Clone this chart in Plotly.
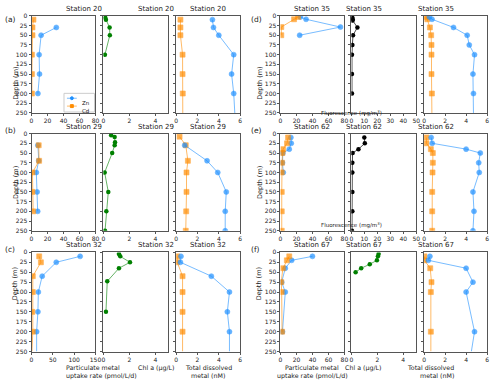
import plotly.graph_objects as go

# depth profiles, one set per station
# particulate uptake (Zn, Cd), chl a / fluorescence, total dissolved (Zn, Cd)
stations = ["Station 20", "Station 29", "Station 32", "Station 35", "Station 62", "Station 67"]
panel_tags = ["(a)", "(b)", "(c)", "(d)", "(e)", "(f)"]
line_only_250 = ["(a)", "(c)", "(d)", "(f)"]  # profiles extended to 250 m with no marker

# (a) Station 20
pzn_a_z = [30, 50, 100, 150, 200]
pzn_a = [31, 12, 9.5, 10, 8]
pcd_a_z = [10, 30, 50, 100, 150, 200]
pcd_a = [2.4, 1.2, 1.2, 0.5, 0.5, 0.5]
chl_a_z = [5, 10, 30, 50, 100]
chl_a = [0.15, 0.2, 0.48, 0.5, 0.12]
dzn_a_z = [10, 30, 50, 100, 150, 200, 250]
dzn_a = [3.4, 3.5, 4.0, 5.4, 5.2, 5.4, 5.5]
dcd_a_z = [10, 30, 50, 100, 150, 200, 250]
dcd_a = [0.4, 0.4, 0.4, 0.6, 0.6, 0.62, 0.62]

# (b) Station 29
pzn_b_z = [30, 70, 100, 150, 200]
pzn_b = [8, 9, 6, 7, 7.7]
pcd_b_z = [30, 70, 100, 150, 200]
pcd_b = [9, 9.5, 1.2, 1.2, 2]
chl_b_z = [4, 9, 22, 30, 50, 100, 150, 200, 250]
chl_b = [0.6, 0.87, 0.9, 0.87, 0.68, 0.1, 0.38, 0.23, 0.13]
dzn_b_z = [30, 70, 100, 150, 200, 250]
dzn_b = [0.8, 2.9, 3.9, 4.7, 4.6, 4.6]
dcd_b_z = [8, 30, 70, 100, 150, 200, 250]
dcd_b = [0.32, 0.9, 1.1, 0.97, 0.97, 0.94, 0.9]

# (c) Station 32
pzn_c_z = [10, 25, 60, 100, 150, 200, 250]
pzn_c = [114, 58, 25, 16, 15, 12, 12]
pcd_c_z = [10, 25, 60, 100, 150, 200, 250]
pcd_c = [18, 22, 3, 3, 2, 3, 1]
chl_c_z = [4, 10, 25, 40, 73, 150]
chl_c = [1.2, 1.3, 2.05, 1.2, 0.3, 0.2]
dzn_c_z = [10, 25, 60, 100, 150, 200, 250]
dzn_c = [0.45, 0.4, 3.3, 5.0, 4.8, 5.0, 5.0]
dcd_c_z = [10, 25, 60, 100, 150, 200, 250]
dcd_c = [0.1, 0.1, 0.6, 0.6, 0.6, 0.6, 0.6]

# (d) Station 35
pzn_d_z = [3, 9, 29, 50]
pzn_d = [25, 32, 75, 24]
pcd_d_z = [3, 9, 29, 50]
pcd_d = [22, 17, 1, 1]
fl_d_z = [5, 9, 12, 30, 50, 75, 100, 150, 200]
fl_d = [0.8, 1, 1, 4.7, 1.3, 0.8, 0.5, 0.5, 0.5]
dzn_d_z = [3, 9, 30, 50, 75, 100, 150, 200, 250]
dzn_d = [0.5, 0.75, 2.8, 4.1, 4.3, 4.8, 4.65, 4.7, 4.7]
dcd_d_z = [3, 9, 30, 50, 75, 100, 150, 200, 250]
dcd_d = [0.22, 0.3, 0.55, 0.67, 0.7, 0.7, 0.7, 0.74, 0.74]

# (e) Station 62
pzn_e_z = [10, 25, 40, 50, 75, 100]
pzn_e = [13, 13.5, 11, 3, 2.5, 3.5]
pcd_e_z = [10, 25, 40, 50, 75, 100, 150, 200, 250]
pcd_e = [9.5, 8.2, 3.3, 2.5, 2, 1.6, 1.6, 1.6, 1.6]
fl_e_z = [10, 25, 40, 50, 75, 100, 150, 200, 250]
fl_e = [10, 10.4, 5.5, 1, 0.8, 0.8, 0.8, 0.8, 0.5]
dzn_e_z = [10, 25, 40, 50, 75, 100, 150, 200, 250]
dzn_e = [0.67, 0.77, 4.0, 5.35, 5.2, 5.25, 4.65, 4.75, 4.65]
dcd_e_z = [10, 25, 40, 50, 75, 100, 150, 200, 250]
dcd_e = [0.22, 0.22, 0.64, 0.83, 0.83, 0.8, 0.77, 0.77, 0.77]

# (f) Station 67
pzn_f_z = [10, 20, 40, 75, 100, 200]
pzn_f = [40, 14, 6, 1.5, 6, 2.5]
pcd_f_z = [10, 20, 40, 75, 100, 200]
pcd_f = [11, 8, 3, 1, 1.5, 2]
chl_f_z = [4, 10, 20, 30, 40, 50]
chl_f = [2.1, 2.05, 1.97, 1.42, 0.76, 0.33]
dzn_f_z = [10, 20, 40, 75, 100, 200, 250]
dzn_f = [0.55, 0.4, 4.0, 4.65, 4.0, 4.8, 4.5]
dcd_f_z = [10, 20, 40, 75, 100, 200, 250]
dcd_f = [0.03, 0.03, 0.58, 0.7, 0.64, 0.64, 0.64]

depth_ticks = list(range(0, 251, 25))

W, H = 500, 383
col_px = [(30, 95), (103, 169), (177, 242), (283, 348), (355, 421), (429, 493)]
row_px = [(12, 111), (132, 231), (253, 354)]

ZN, CD = "#1e90ff", "#ff8c00"
ZN_L, CD_L = "rgba(30,144,255,0.6)", "rgba(255,140,0,0.6)"
GR, GR_L = "#008000", "rgba(0,128,0,0.6)"
FONT = "DejaVu Sans"
TXT = "#222"

groups = [
    (pzn_a_z, pzn_a, pcd_a_z, pcd_a, chl_a_z, chl_a, "chl", dzn_a_z, dzn_a, dcd_a_z, dcd_a),
    (pzn_b_z, pzn_b, pcd_b_z, pcd_b, chl_b_z, chl_b, "chl", dzn_b_z, dzn_b, dcd_b_z, dcd_b),
    (pzn_c_z, pzn_c, pcd_c_z, pcd_c, chl_c_z, chl_c, "chl", dzn_c_z, dzn_c, dcd_c_z, dcd_c),
    (pzn_d_z, pzn_d, pcd_d_z, pcd_d, fl_d_z, fl_d, "fl", dzn_d_z, dzn_d, dcd_d_z, dcd_d),
    (pzn_e_z, pzn_e, pcd_e_z, pcd_e, fl_e_z, fl_e, "fl", dzn_e_z, dzn_e, dcd_e_z, dcd_e),
    (pzn_f_z, pzn_f, pcd_f_z, pcd_f, chl_f_z, chl_f, "chl", dzn_f_z, dzn_f, dcd_f_z, dcd_f),
]


def sizes(z, tag, s):
    # no marker on the 250 m point for the extended profiles
    return [0 if (d == 250 and tag in line_only_250) else s for d in z]


def px(x):
    return x / W


def py(y):
    return 1 - y / H


fig = go.Figure()
layout = {}
annots = []
shapes = []

for g in range(6):
    r = g % 3
    c0 = 0 if g < 3 else 3
    tag = panel_tags[g]
    pzz, pz, pcz, pc, bz, bv, kind, dzz, dz, dcz, dc = groups[g]
    for j in range(3):
        c = c0 + j
        k = r * 6 + c + 1
        xs = "x" if k == 1 else "x%d" % k
        ys = "y" if k == 1 else "y%d" % k
        xa = "xaxis" if k == 1 else "xaxis%d" % k
        ya = "yaxis" if k == 1 else "yaxis%d" % k
        x0, x1 = col_px[c]
        y0, y1 = row_px[r]

        if j == 0:
            rng = [0, 150] if tag == "(c)" else [0, 80]
            tv = [0, 50, 100, 150] if tag == "(c)" else [0, 20, 40, 60, 80]
            fig.add_trace(go.Scatter(x=pz, y=pzz, xaxis=xs, yaxis=ys, mode="lines+markers", name="Zn",
                                     line=dict(color=ZN_L, width=1),
                                     marker=dict(color=ZN, size=sizes(pzz, tag, 5), symbol="circle")))
            fig.add_trace(go.Scatter(x=pc, y=pcz, xaxis=xs, yaxis=ys, mode="lines+markers", name="Cd",
                                     line=dict(color=CD_L, width=1),
                                     marker=dict(color=CD, size=sizes(pcz, tag, 5), symbol="square")))
        elif j == 1:
            if kind == "fl":
                rng, tv = [0, 50], [0, 10, 20, 30, 40, 50]
                fig.add_trace(go.Scatter(x=bv, y=bz, xaxis=xs, yaxis=ys, mode="lines+markers",
                                         line=dict(color="rgba(0,0,0,0.7)", width=1),
                                         marker=dict(color="black", size=4.5)))
                annots.append(dict(x=px((x0 + x1) / 2), y=py(y1 - 6), xref="paper", yref="paper",
                                   text="Fluorescence (mg/m<sup>3</sup>)", showarrow=False,
                                   font=dict(size=5.5, family=FONT, color=TXT)))
            else:
                rng, tv = [0, 5], [0, 2, 4]
                fig.add_trace(go.Scatter(x=bv, y=bz, xaxis=xs, yaxis=ys, mode="lines+markers",
                                         line=dict(color=GR_L, width=1),
                                         marker=dict(color=GR, size=4.5)))
        else:
            rng, tv = [0, 6], [0, 2, 4, 6]
            fig.add_trace(go.Scatter(x=dc, y=dcz, xaxis=xs, yaxis=ys, mode="lines+markers",
                                     line=dict(color=CD_L, width=1),
                                     marker=dict(color=CD, size=sizes(dcz, tag, 5), symbol="square")))
            fig.add_trace(go.Scatter(x=dz, y=dzz, xaxis=xs, yaxis=ys, mode="lines+markers",
                                     line=dict(color=ZN_L, width=1),
                                     marker=dict(color=ZN, size=sizes(dzz, tag, 5), symbol="circle")))

        layout[xa] = dict(domain=[px(x0), px(x1)], range=rng, tickvals=tv, anchor=ys,
                          showline=True, mirror=True, linecolor="#555", linewidth=1,
                          ticks="outside", ticklen=2, tickcolor="#555", showgrid=False, zeroline=False,
                          tickfont=dict(size=6, family=FONT, color=TXT))
        layout[ya] = dict(domain=[py(y1), py(y0)], range=[250, 0], tickvals=depth_ticks,
                          anchor=xs, showticklabels=(j == 0),
                          showline=True, mirror=True, linecolor="#555", linewidth=1,
                          ticks="outside", ticklen=2, tickcolor="#555", showgrid=False, zeroline=False,
                          tickfont=dict(size=6, family=FONT, color=TXT))

        annots.append(dict(x=px((x0 + x1) / 2), y=py(y0 - 1), xref="paper", yref="paper",
                           yanchor="bottom", text=stations[g], showarrow=False,
                           font=dict(size=7, family=FONT, color=TXT)))

    gx = 1 if g < 3 else 251
    annots.append(dict(x=px(gx), y=py(row_px[r][0] - 3), xref="paper", yref="paper",
                       xanchor="left", text=tag, showarrow=False,
                       font=dict(size=7.5, family=FONT, color=TXT)))
    dx = 8 if g < 3 else 262
    annots.append(dict(x=px(dx), y=py((row_px[r][0] + row_px[r][1]) / 2), xref="paper", yref="paper",
                       text="Depth (m)", textangle=-90, showarrow=False,
                       font=dict(size=6.5, family=FONT, color=TXT)))

# x-axis titles under the bottom row
xtitles = [["Particulate metal", "uptake rate (pmol/L/d)"], ["Chl a (\u03bcg/L)"], ["Total dissolved", "metal (nM)"]]
for c in range(6):
    x0, x1 = col_px[c]
    for i, t in enumerate(xtitles[c % 3]):
        annots.append(dict(x=px((x0 + x1) / 2), y=py(365 + 8 * i), xref="paper", yref="paper",
                           yanchor="top", text=t, showarrow=False,
                           font=dict(size=6.3, family=FONT, color=TXT)))

# legend box in panel (a), drawn by hand to keep it as small as the original
lx0, lx1, ly0, ly1 = 63, 94, 91, 110
shapes.append(dict(type="rect", xref="paper", yref="paper", x0=px(lx0), x1=px(lx1), y0=py(ly1), y1=py(ly0),
                   line=dict(color="#ccc", width=1), fillcolor="white", layer="above"))
for i, (nm, col, lcol, sym) in enumerate([("Zn", ZN, ZN_L, "circle"), ("Cd", CD, CD_L, "rect")]):
    yy = 96 + 8 * i
    shapes.append(dict(type="line", xref="paper", yref="paper", x0=px(66), x1=px(76), y0=py(yy), y1=py(yy),
                       line=dict(color=lcol, width=1), layer="above"))
    shapes.append(dict(type=sym, xref="paper", yref="paper", x0=px(69.5), x1=px(72.5), y0=py(yy + 1.5),
                       y1=py(yy - 1.5), line=dict(color=col, width=1), fillcolor=col, layer="above"))
    annots.append(dict(x=px(79), y=py(yy), xref="paper", yref="paper", xanchor="left", text=nm,
                       showarrow=False, font=dict(size=5.5, family=FONT, color=TXT)))

fig.update_layout(**layout)
fig.update_layout(
    width=W, height=H,
    margin=dict(l=0, r=0, t=0, b=0),
    paper_bgcolor="white", plot_bgcolor="white",
    annotations=annots, shapes=shapes,
    showlegend=False,
)

fig.write_html("out.html", config={"displayModeBar": False},
               post_script="document.body.style.margin='0';")
